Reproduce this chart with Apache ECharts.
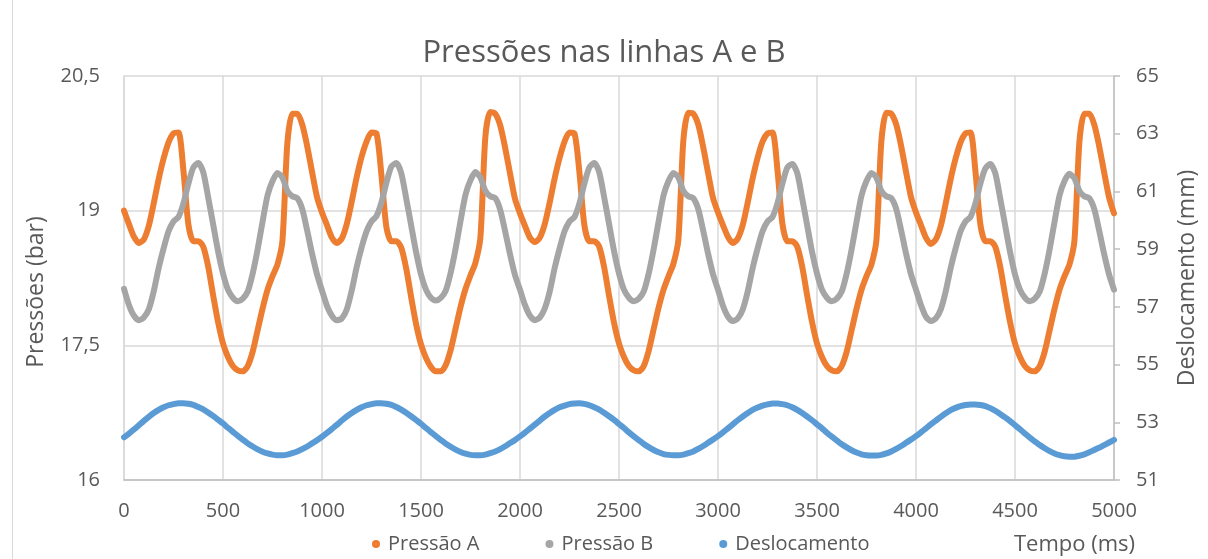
<!DOCTYPE html>
<html>
<head>
<meta charset="utf-8">
<script src="https://cdn.jsdelivr.net/npm/echarts@6/dist/echarts.min.js"></script>
<style>
html,body{margin:0;padding:0;background:#fff;}
#chart{width:1208px;height:559px;}
</style>
</head>
<body>
<div id="chart"></div>
<script>
// Time samples (ms)
const tempo = [
  0,25,50,75,100,125,150,175,200,225,250,275,300,325,350,375,400,425,450,475,
  500,525,550,575,600,625,650,675,700,725,750,775,800,825,850,875,900,925,950,975,
  1000,1025,1050,1075,1100,1125,1150,1175,1200,1225,1250,1275,1300,1325,1350,1375,1400,1425,1450,1475,
  1500,1525,1550,1575,1600,1625,1650,1675,1700,1725,1750,1775,1800,1825,1850,1875,1900,1925,1950,1975,
  2000,2025,2050,2075,2100,2125,2150,2175,2200,2225,2250,2275,2300,2325,2350,2375,2400,2425,2450,2475,
  2500,2525,2550,2575,2600,2625,2650,2675,2700,2725,2750,2775,2800,2825,2850,2875,2900,2925,2950,2975,
  3000,3025,3050,3075,3100,3125,3150,3175,3200,3225,3250,3275,3300,3325,3350,3375,3400,3425,3450,3475,
  3500,3525,3550,3575,3600,3625,3650,3675,3700,3725,3750,3775,3800,3825,3850,3875,3900,3925,3950,3975,
  4000,4025,4050,4075,4100,4125,4150,4175,4200,4225,4250,4275,4300,4325,4350,4375,4400,4425,4450,4475,
  4500,4525,4550,4575,4600,4625,4650,4675,4700,4725,4750,4775,4800,4825,4850,4875,4900,4925,4950,4975,
  5000
];

// Pressão A (bar)
const pressaoA = [
  19.00,18.85,18.71,18.64,18.68,18.83,19.08,19.35,19.58,19.76,19.86,19.87,19.45,18.85,18.66,18.66,18.60,18.38,18.06,17.76,
  17.52,17.37,17.27,17.22,17.21,17.27,17.43,17.67,17.91,18.12,18.27,18.40,18.66,19.75,20.08,20.08,19.96,19.72,19.43,19.15,
  18.98,18.84,18.70,18.64,18.69,18.85,19.10,19.37,19.60,19.77,19.87,19.86,19.40,18.82,18.66,18.66,18.59,18.36,18.04,17.74,
  17.51,17.36,17.26,17.21,17.21,17.28,17.45,17.69,17.93,18.13,18.28,18.42,18.70,19.82,20.10,20.08,19.95,19.70,19.41,19.13,
  18.97,18.83,18.70,18.65,18.70,18.85,19.09,19.36,19.59,19.77,19.87,19.86,19.43,18.84,18.66,18.66,18.60,18.37,18.05,17.75,
  17.52,17.37,17.27,17.22,17.21,17.27,17.44,17.68,17.92,18.12,18.27,18.41,18.68,19.78,20.09,20.08,19.96,19.71,19.42,19.14,
  18.98,18.84,18.71,18.64,18.69,18.84,19.09,19.36,19.59,19.77,19.86,19.87,19.46,18.86,18.66,18.66,18.60,18.38,18.06,17.76,
  17.52,17.37,17.27,17.22,17.21,17.27,17.43,17.67,17.91,18.12,18.27,18.40,18.67,19.77,20.09,20.08,19.96,19.72,19.43,19.15,
  18.98,18.84,18.70,18.63,18.68,18.83,19.08,19.35,19.58,19.76,19.86,19.87,19.44,18.85,18.66,18.66,18.60,18.38,18.06,17.76,
  17.52,17.37,17.27,17.22,17.21,17.27,17.43,17.67,17.91,18.12,18.27,18.40,18.66,19.76,20.08,20.08,19.96,19.72,19.43,19.15,
  18.97
];

// Pressão B (bar)
const pressaoB = [
  18.13,17.95,17.83,17.78,17.81,17.90,18.10,18.36,18.58,18.77,18.88,18.93,19.08,19.30,19.48,19.53,19.43,19.15,18.85,18.55,
  18.30,18.12,18.03,17.99,18.02,18.10,18.30,18.57,18.88,19.17,19.33,19.42,19.37,19.22,19.16,19.14,19.02,18.78,18.52,18.29,
  18.11,17.94,17.83,17.78,17.80,17.90,18.11,18.37,18.59,18.77,18.88,18.94,19.09,19.31,19.49,19.53,19.42,19.14,18.84,18.54,
  18.29,18.12,18.03,18.00,18.03,18.11,18.31,18.58,18.89,19.18,19.34,19.43,19.37,19.22,19.16,19.14,19.01,18.77,18.51,18.28,
  18.12,17.95,17.83,17.78,17.81,17.91,18.10,18.36,18.58,18.77,18.88,18.93,19.08,19.30,19.48,19.53,19.43,19.15,18.85,18.55,
  18.30,18.12,18.03,17.99,18.02,18.10,18.30,18.57,18.88,19.17,19.33,19.42,19.37,19.22,19.16,19.14,19.02,18.78,18.52,18.29,
  18.12,17.94,17.82,17.77,17.80,17.90,18.10,18.36,18.58,18.77,18.88,18.93,19.08,19.30,19.48,19.52,19.42,19.14,18.84,18.54,
  18.30,18.12,18.03,17.99,18.02,18.10,18.30,18.57,18.88,19.17,19.33,19.42,19.37,19.22,19.16,19.14,19.02,18.78,18.52,18.29,
  18.12,17.95,17.82,17.77,17.80,17.90,18.10,18.36,18.58,18.77,18.88,18.93,19.08,19.30,19.47,19.52,19.42,19.14,18.84,18.54,
  18.29,18.12,18.03,17.99,18.02,18.10,18.30,18.57,18.88,19.17,19.33,19.41,19.36,19.22,19.16,19.14,19.02,18.78,18.52,18.29,
  18.12
];

// Deslocamento (mm)
const deslocamento = [
  52.48,52.61,52.75,52.90,53.05,53.19,53.32,53.43,53.52,53.59,53.63,53.66,53.66,53.64,53.60,53.53,53.45,53.34,53.22,53.09,
  52.96,52.81,52.67,52.53,52.40,52.27,52.16,52.06,51.98,51.92,51.88,51.86,51.86,51.88,51.93,51.99,52.07,52.16,52.27,52.38,
  52.50,52.63,52.77,52.91,53.06,53.20,53.32,53.43,53.52,53.59,53.63,53.66,53.66,53.64,53.60,53.53,53.44,53.33,53.21,53.08,
  52.95,52.80,52.66,52.52,52.39,52.26,52.15,52.05,51.97,51.91,51.87,51.86,51.86,51.88,51.93,51.99,52.07,52.17,52.28,52.39,
  52.51,52.64,52.78,52.92,53.06,53.20,53.32,53.43,53.52,53.58,53.63,53.65,53.66,53.64,53.59,53.52,53.44,53.33,53.21,53.08,
  52.94,52.80,52.65,52.51,52.38,52.25,52.14,52.04,51.96,51.90,51.87,51.86,51.86,51.88,51.93,51.99,52.08,52.18,52.29,52.40,
  52.52,52.65,52.79,52.93,53.07,53.20,53.32,53.43,53.51,53.58,53.62,53.65,53.65,53.63,53.59,53.52,53.43,53.32,53.20,53.07,
  52.93,52.79,52.64,52.50,52.37,52.24,52.13,52.03,51.95,51.89,51.86,51.85,51.85,51.87,51.92,51.99,52.08,52.18,52.29,52.40,
  52.52,52.65,52.79,52.93,53.06,53.19,53.31,53.42,53.50,53.56,53.60,53.62,53.62,53.60,53.56,53.49,53.40,53.29,53.17,53.04,
  52.90,52.76,52.61,52.47,52.34,52.21,52.10,52.00,51.92,51.86,51.82,51.81,51.81,51.84,51.89,51.96,52.04,52.12,52.21,52.30,
  52.39
];

const textColor = '#595959';
const fontFamily = "'Open Sans', 'Noto Sans', sans-serif";

const chart = echarts.init(document.getElementById('chart'), null, { renderer: 'canvas' });

function pairs(vals) { return tempo.map((t, i) => [t, vals[i]]); }

const option = {
  backgroundColor: '#ffffff',
  animation: false,
  textStyle: { fontFamily: fontFamily, color: textColor },
  title: {
    text: 'Pressões nas linhas A e B',
    left: 'center',
    top: 33,
    textStyle: { fontFamily: fontFamily, fontSize: 31, fontWeight: 'normal', color: textColor }
  },
  legend: {
    left: 367,
    top: 529,
    icon: 'circle',
    itemWidth: 8,
    itemHeight: 8,
    itemGap: 66,
    textStyle: { fontFamily: fontFamily, fontSize: 20, color: textColor, padding: [0, 0, 0, 3] },
    data: ['Pressão A', 'Pressão B', 'Deslocamento']
  },
  grid: { left: 124, right: 94, top: 76, bottom: 79, containLabel: false },
  xAxis: {
    type: 'value',
    min: 0,
    max: 5000,
    interval: 500,
    name: 'Tempo (ms)',
    nameLocation: 'end',
    nameGap: -100,
    nameTextStyle: { fontFamily: fontFamily, fontSize: 22, color: textColor, align: 'left', verticalAlign: 'top', padding: [54, 0, 0, 0] },
    axisLine: { show: true, lineStyle: { color: '#BFBFBF', width: 1.5 } },
    axisTick: { show: false },
    axisLabel: { fontFamily: fontFamily, fontSize: 20, color: textColor, margin: 21, formatter: v => String(v) },
    splitLine: { show: true, lineStyle: { color: '#D9D9D9', width: 1.5 } }
  },
  yAxis: [
    {
      type: 'value',
      min: 16,
      max: 20.5,
      interval: 1.5,
      name: 'Pressões (bar)',
      nameLocation: 'middle',
      nameGap: 76,
      nameTextStyle: { fontFamily: fontFamily, fontSize: 23, color: textColor, padding: [0, 28, 0, 0] },
      axisLine: { show: true, lineStyle: { color: '#D9D9D9', width: 1.5 } },
      axisTick: { show: false },
      axisLabel: {
        fontFamily: fontFamily, fontSize: 20, color: textColor, margin: 24,
        formatter: v => String(v).replace('.', ',')
      },
      splitLine: { show: true, lineStyle: { color: '#D9D9D9', width: 1.5 } }
    },
    {
      type: 'value',
      min: 51,
      max: 65,
      interval: 2,
      name: 'Deslocamento (mm)',
      nameLocation: 'middle',
      nameGap: 62,
      nameTextStyle: { fontFamily: fontFamily, fontSize: 23, color: textColor },
      axisLine: { show: true, lineStyle: { color: '#BFBFBF', width: 1.5 } },
      axisTick: { show: true, inside: false, length: 6, lineStyle: { color: '#BFBFBF', width: 1.5 } },
      axisLabel: { fontFamily: fontFamily, fontSize: 20, color: textColor, margin: 22 },
      splitLine: { show: false }
    }
  ],
  series: [
    {
      name: 'Pressão A', type: 'line', yAxisIndex: 0, data: pairs(pressaoA),
      showSymbol: false, smooth: 0.25, color: '#ED7D31',
      lineStyle: { width: 6, color: '#ED7D31', cap: 'round', join: 'round' }
    },
    {
      name: 'Pressão B', type: 'line', yAxisIndex: 0, data: pairs(pressaoB),
      showSymbol: false, smooth: 0.25, color: '#A5A5A5',
      lineStyle: { width: 6, color: '#A5A5A5', cap: 'round', join: 'round' }
    },
    {
      name: 'Deslocamento', type: 'line', yAxisIndex: 1, data: pairs(deslocamento),
      showSymbol: false, smooth: 0.25, color: '#5B9BD5',
      lineStyle: { width: 6, color: '#5B9BD5', cap: 'round', join: 'round' }
    }
  ],
  graphic: [
    { type: 'line', shape: { x1: 12.5, y1: 0, x2: 12.5, y2: 559 }, style: { stroke: '#D9D9D9', lineWidth: 1 }, silent: true }
  ]
};

chart.setOption(option);
</script>
</body>
</html>
